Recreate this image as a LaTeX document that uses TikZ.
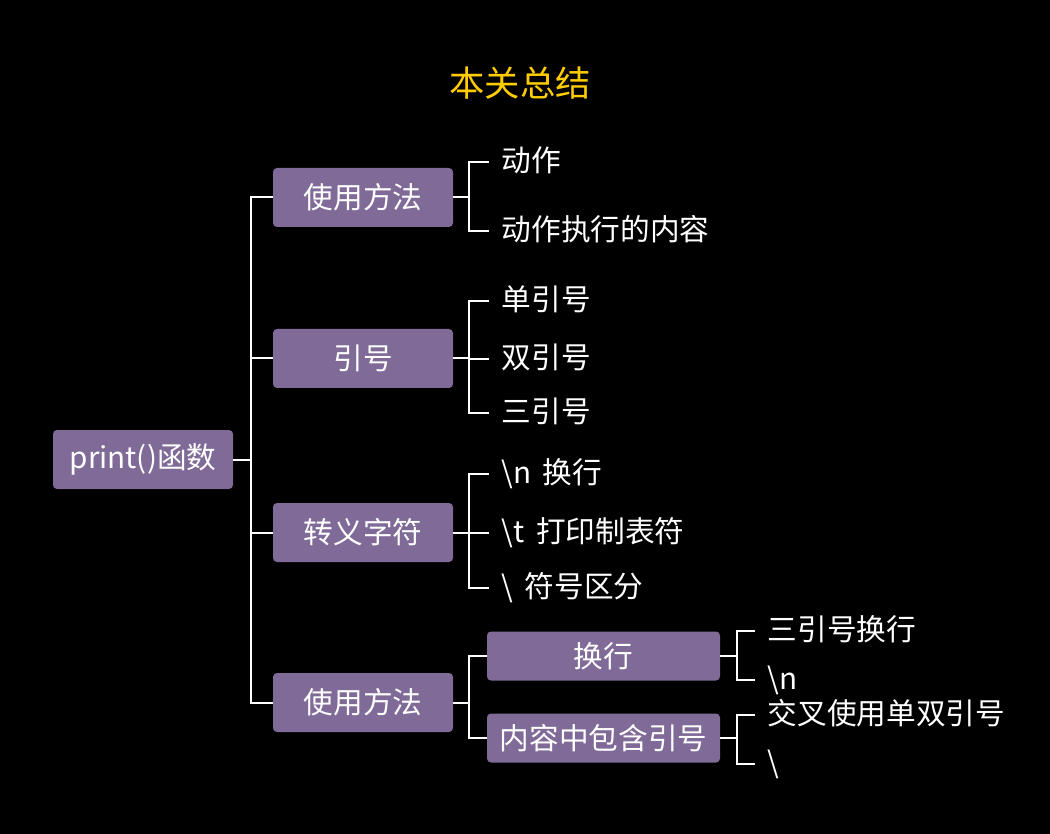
\documentclass[tikz,border=0pt]{standalone}
\usepackage{fontspec}
\setmainfont{Noto Sans CJK SC}[WordSpace=1.7]
\definecolor{boxpurple}{HTML}{7F6A98}
\definecolor{titlegold}{HTML}{FFCC00}

\tikzset{
  topic/.style={fill=boxpurple, rounded corners=3pt, text=white, inner sep=0pt,
    minimum width=135pt, minimum height=44.25pt, font=\fontsize{22.25}{26}\selectfont},
  subtopic/.style={topic, minimum width=174.75pt, minimum height=36.75pt},
  leaf/.style={anchor=west, text=white, inner xsep=9.5pt, inner ysep=0pt,
    text height=1.42em, text depth=0pt, font=\fontsize{22.25}{26}\selectfont},
  link/.style={draw=white, line width=1.5pt}
}

\begin{document}
\begin{tikzpicture}[x=0.75pt, y=-0.75pt]

    % Background
    \fill[black] (0,0) rectangle (1050,834);
    \useasboundingbox (0,0) rectangle (1050,834);

    % Title
    \node[text=titlegold, font=\fontsize{26.5}{30}\selectfont] (title) at (520,83) {本关总结};

    % Boxes
    \node[topic] (root) at (143,459.5) {print()函数};
    \node[topic] (m1) at (363,197.5) {使用方法};
    \node[topic] (m2) at (363,358.5) {引号};
    \node[topic] (m3) at (363,532.5) {转义字符};
    \node[topic] (m4) at (363,702.5) {使用方法};
    \node[subtopic] (s1) at (603.5,656) {换行};
    \node[subtopic] (s2) at (603.5,738) {内容中包含引号};

    % Leaves
    \node[leaf] (a1) at (489,162) {动作};
    \node[leaf] (a2) at (489,231) {动作执行的内容};
    \node[leaf] (b1) at (489,301) {单引号};
    \node[leaf] (b2) at (489,359) {双引号};
    \node[leaf] (b3) at (489,413) {三引号};
    \node[leaf] (c1) at (489,474) {\textbackslash n 换行};
    \node[leaf] (c2) at (489,533) {\textbackslash t 打印制表符};
    \node[leaf] (c3) at (489,588) {\textbackslash{} 符号区分};
    \node[leaf] (d1) at (755,631) {三引号换行};
    \node[leaf] (d2) at (755,680) {\textbackslash n};
    \node[leaf] (e1) at (755,715) {交叉使用单双引号};
    \node[leaf] (e2) at (755,764) {\textbackslash};

    % Connectors
    \foreach \m in {m1,m2,m3,m4}
        \draw[link] (root.east) -- ++(18,0) |- (\m.west);
    \foreach \l in {a1,a2}
        \draw[link] (m1.east) -- ++(16,0) |- (\l.west);
    \foreach \l in {b1,b2,b3}
        \draw[link] (m2.east) -- ++(16,0) |- (\l.west);
    \foreach \l in {c1,c2,c3}
        \draw[link] (m3.east) -- ++(16,0) |- (\l.west);
    \foreach \l in {s1,s2}
        \draw[link] (m4.east) -- ++(16,0) |- (\l.west);
    \foreach \l in {d1,d2}
        \draw[link] (s1.east) -- ++(17,0) |- (\l.west);
    \foreach \l in {e1,e2}
        \draw[link] (s2.east) -- ++(17,0) |- (\l.west);

\end{tikzpicture}
\end{document}
